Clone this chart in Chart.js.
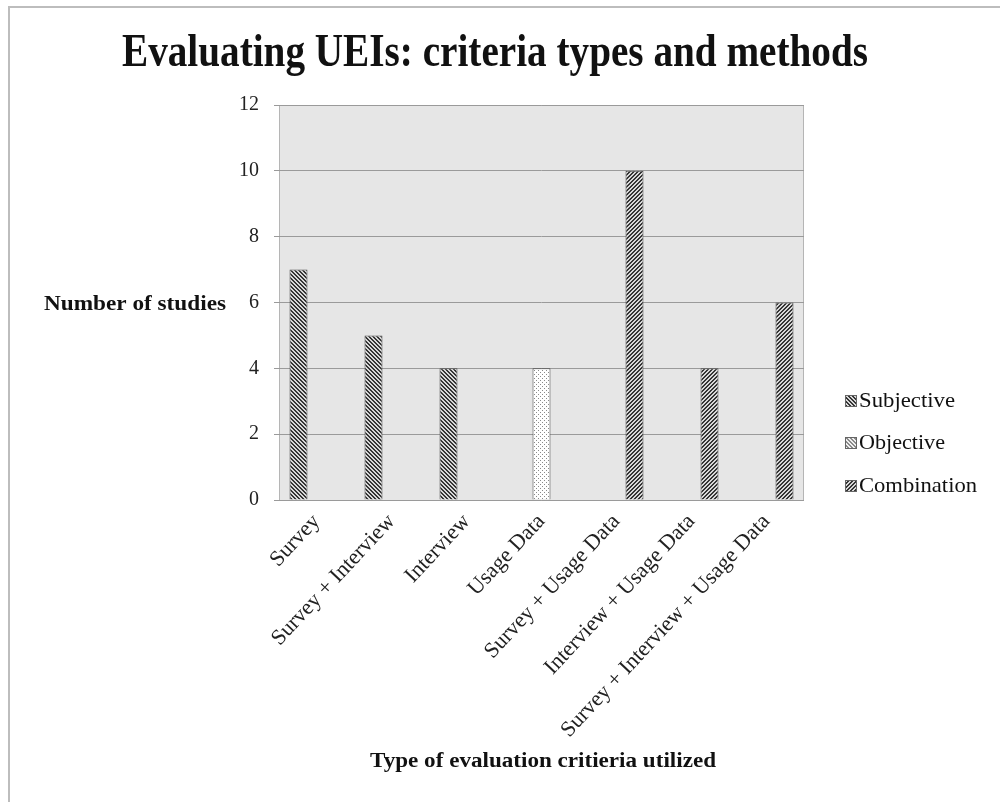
<!DOCTYPE html>
<html>
<head>
<meta charset="utf-8">
<script src="https://cdn.jsdelivr.net/npm/chart.js@4.4.1/dist/chart.umd.min.js"></script>
<style>
  html, body { margin: 0; padding: 0; background: #ffffff; }
  #wrap { position: relative; width: 1000px; height: 802px; }
</style>
</head>
<body>
<div id="wrap"><canvas id="c" width="1000" height="802"></canvas></div>
<script>
// ---- Data ----
const categories = ["Survey", "Survey + Interview", "Interview", "Usage Data",
  "Survey + Usage Data", "Interview + Usage Data", "Survey + Interview + Usage Data"];
const subjective  = [7, 5, 4, null, null, null, null];
const objective   = [null, null, null, 4, null, null, null];
const combination = [null, null, null, null, 10, 4, 6];
const seriesNames = ["Subjective", "Objective", "Combination"];
const yTicks = [0, 2, 4, 6, 8, 10, 12];
const chartTitle = "Evaluating UEIs: criteria types and methods";
const yTitle = "Number of studies";
const xTitle = "Type of evaluation critieria utilized";

const SERIF = "'Liberation Serif', 'DejaVu Serif', serif";

// ---- Patterns ----
function makeTile(size, fn) {
  const c = document.createElement('canvas');
  c.width = size; c.height = size;
  const g = c.getContext('2d');
  for (let y = 0; y < size; y++) {
    for (let x = 0; x < size; x++) {
      g.fillStyle = fn(x, y);
      g.fillRect(x, y, 1, 1);
    }
  }
  return c;
}
const ctx = document.getElementById('c').getContext('2d');
const tileBack = makeTile(4, (x, y) => (((x - y) % 4 + 4) % 4) < 2 ? '#353535' : '#d8d8d8');
const tileFwd  = makeTile(4, (x, y) => (((x + y) % 4)) < 2 ? '#353535' : '#d8d8d8');
const tileDots = makeTile(4, (x, y) => ((x === 0 && y === 0) || (x === 2 && y === 2)) ? '#8a8a8a' : '#ffffff');
const tileLight = makeTile(4, (x, y) => (((x - y) % 4 + 4) % 4) < 2 ? '#8a8a8a' : '#f0f0f0');
const patBack = ctx.createPattern(tileBack, 'repeat');
const patFwd  = ctx.createPattern(tileFwd, 'repeat');
const patDots = ctx.createPattern(tileDots, 'repeat');
const patLight = ctx.createPattern(tileLight, 'repeat');

function fitText(c, text, x, y, targetW, font, align) {
  c.save();
  c.font = font;
  c.textBaseline = 'middle';
  c.textAlign = 'left';
  const w = c.measureText(text).width;
  const s = targetW / w;
  let left = x;
  if (align === 'center') left = x - targetW / 2;
  c.translate(left, y);
  c.scale(s, 1);
  c.fillStyle = '#111';
  c.fillText(text, 0, 0);
  c.restore();
}

const decor = {
  id: 'decor',
  beforeDraw(chart) {
    const c = chart.ctx;
    const a = chart.chartArea;
    c.save();
    c.fillStyle = '#ffffff';
    c.fillRect(0, 0, chart.width, chart.height);
    // outer frame
    c.strokeStyle = '#bdbdbd';
    c.lineWidth = 2;
    c.strokeRect(9, 7, chart.width + 10, chart.height + 10);
    // plot background
    c.fillStyle = '#e6e6e6';
    c.fillRect(a.left, a.top, a.right - a.left, a.bottom - a.top);
    c.strokeStyle = '#b5b5b5';
    c.lineWidth = 1;
    c.strokeRect(a.left + 0.5, a.top + 0.5, a.right - a.left - 1, a.bottom - a.top);
    c.restore();
  },
  afterDraw(chart) {
    const c = chart.ctx;
    // title
    fitText(c, chartTitle, 495, 54, 746, "bold 46px " + SERIF, 'center');
    // y axis title (horizontal)
    fitText(c, yTitle, 44, 305, 182, "bold 20px " + SERIF, 'left');
    // x axis title
    fitText(c, xTitle, 543, 762, 346, "bold 20px " + SERIF, 'center');
    // legend
    const pats = [patBack, patLight, patFwd];
    const ys = [401, 443, 486];
    const widths = [96, 86, 118];
    for (let i = 0; i < 3; i++) {
      c.save();
      c.fillStyle = pats[i];
      c.fillRect(845, ys[i] - 6, 12, 12);
      c.strokeStyle = '#666';
      c.lineWidth = 1;
      c.strokeRect(845.5, ys[i] - 5.5, 11, 11);
      c.restore();
      fitText(c, seriesNames[i], 859, ys[i], widths[i], "21px " + SERIF, 'left');
    }
  }
};

new Chart(document.getElementById('c'), {
  type: 'bar',
  data: {
    labels: categories,
    datasets: [
      { label: seriesNames[0], data: subjective, backgroundColor: patBack, borderColor: '#4a4a4a', borderWidth: 1 },
      { label: seriesNames[1], data: objective, backgroundColor: patDots, borderColor: '#4a4a4a', borderWidth: 1 },
      { label: seriesNames[2], data: combination, backgroundColor: patFwd, borderColor: '#4a4a4a', borderWidth: 1 }
    ]
  },
  options: {
    responsive: false,
    animation: false,
    devicePixelRatio: 1,
    layout: { padding: { left: 8, right: 196, top: 105, bottom: 0 } },
    datasets: { bar: { categoryPercentage: 0.72, barPercentage: 1.0 } },
    plugins: {
      legend: { display: false },
      title: { display: false },
      tooltip: { enabled: false }
    },
    scales: {
      x: {
        grid: { display: false, drawTicks: false },
        border: { display: false },
        ticks: {
          font: { family: SERIF, size: 22 },
          color: '#222',
          minRotation: 47, maxRotation: 47,
          autoSkip: false,
          padding: 9
        },
        afterFit(scale) { scale.height = 302; }
      },
      y: {
        min: 0, max: 12,
        afterBuildTicks(scale) { scale.ticks = yTicks.map(v => ({ value: v })); },
        grid: { color: '#9a9a9a', lineWidth: 1, tickLength: 5, drawTicks: true },
        border: { display: false },
        ticks: {
          font: { family: SERIF, size: 20 },
          color: '#222',
          padding: 15
        },
        afterFit(scale) { scale.width = 271; }
      }
    }
  },
  plugins: [decor]
});
</script>
</body>
</html>
